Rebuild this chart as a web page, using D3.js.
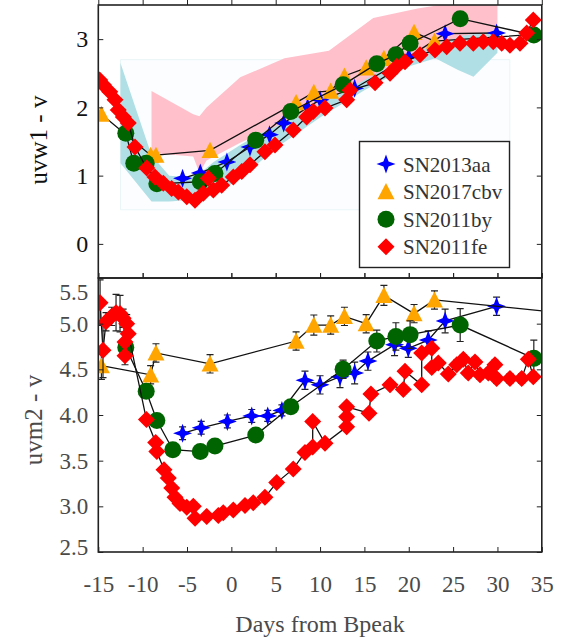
<!DOCTYPE html>
<html>
<head>
<meta charset="utf-8">
<script src="https://cdn.jsdelivr.net/npm/d3@7"></script>
<style>
    body { margin: 0; background: #fff; }
    svg { display: block; font-family: 'Liberation Serif', 'DejaVu Serif', serif; }
</style>
</head>
<body>
<svg width="561" height="638"></svg>
<script>
// ---- data (phase in days from B peak, colour in mag) ----

// comparison bands in the uvw1 - v panel
const bluePhase = [-12.5, -9.0, -7.0, -5.0, -3.5, -2.0, 1.0, 5.0, 10.0, 15.0, 20.0, 23.0, 25.5, 27.3, 30.0];
const blueUpper = [2.65, 1.30, 1.00, 0.98, 1.04, 1.20, 1.45, 1.75, 2.10, 2.45, 2.80, 3.00, 3.08, 3.10, 3.13];
const blueLower = [1.18, 0.62, 0.62, 0.64, 0.66, 0.72, 0.95, 1.40, 1.85, 2.25, 2.60, 2.72, 2.55, 2.45, 2.80];
const pinkPhase = [-9.0, -4.3, -3.6, -2.8, 1.0, 6.0, 11.0, 16.0, 21.0, 26.0, 30.0];
const pinkUpper = [2.24, 1.90, 1.87, 2.00, 2.44, 2.72, 2.83, 3.31, 3.45, 3.55, 3.57];
const pinkLower = [1.33, 1.28, 1.04, 1.22, 1.48, 1.78, 2.12, 2.47, 2.82, 3.05, 3.12];
const faintPhase = [-12.5, 31.4];
const faintUpper = [2.70, 2.70];
const faintLower = [0.50, 0.50];

// SN2013aa
const aaPhaseW1 = [-5.5, -3.5, -0.5, 2.1, 4.3, 5.9, 8.6, 10.0, 13.9, 20.0, 24.1, 29.9];
const aaW1 = [0.96, 1.04, 1.20, 1.42, 1.60, 1.77, 2.00, 2.11, 2.28, 2.74, 3.08, 3.09];
const aaPhaseM2 = [-5.5, -3.4, -0.45, 2.3, 4.1, 5.7, 8.3, 10.0, 12.25, 13.9, 15.4, 18.4, 19.95, 22.2, 24.1, 29.9];
const aaM2 = [3.80, 3.86, 3.93, 3.99, 3.99, 4.05, 4.38, 4.33, 4.42, 4.46, 4.59, 4.77, 4.73, 4.82, 5.03, 5.19];
const aaErrM2 = [0.07, 0.07, 0.07, 0.07, 0.06, 0.06, 0.10, 0.10, 0.12, 0.12, 0.10, 0.12, 0.10, 0.10, 0.13, 0.10];

// SN2017cbv
const cbvPhaseW1 = [-14.65, -9.1, -8.5, -2.4, 7.3, 9.3, 11.2, 12.75, 15.2, 17.2, 20.6, 22.9, 40];
const cbvW1 = [1.90, 1.30, 1.30, 1.37, 2.07, 2.22, 2.24, 2.46, 2.58, 2.72, 3.10, 2.97, 3.12];
const cbvPhaseM2 = [-14.65, -9.1, -8.5, -2.4, 7.3, 9.3, 11.2, 12.75, 15.2, 17.2, 20.6, 22.9, 40];
const cbvM2 = [4.54, 4.44, 4.68, 4.56, 4.81, 4.985, 4.985, 5.08, 5.00, 5.31, 5.11, 5.26, 5.09];
const cbvErrM2 = [0.15, 0.10, 0.10, 0.10, 0.10, 0.11, 0.10, 0.10, 0.10, 0.11, 0.10, 0.10, 0.10];

// SN2011by
const byPhaseW1 = [-11.9, -11.0, -9.6, -8.4, -3.5, -1.85, 2.75, 6.7, 12.6, 16.4, 18.55, 20.15, 25.8, 34.1];
const byW1 = [1.62, 1.18, 1.18, 0.88, 0.91, 1.03, 1.52, 1.94, 2.33, 2.64, 2.77, 2.94, 3.30, 3.06];
const byPhaseM2 = [-11.9, -9.6, -8.4, -6.6, -3.5, -1.85, 2.75, 6.7, 12.6, 16.4, 18.55, 20.15, 25.8, 34.1];
const byM2 = [4.74, 4.26, 3.94, 3.62, 3.60, 3.66, 3.78, 4.09, 4.50, 4.81, 4.86, 4.88, 4.985, 4.62];
const byErrM2 = [0.05, 0.05, 0.05, 0.05, 0.05, 0.05, 0.05, 0.06, 0.10, 0.12, 0.15, 0.15, 0.18, 0.20];

// SN2011fe
const fePhaseW1 = [-14.84, -14.44, -13.71, -13.12, -12.75, -12.18, -11.62, -10.86, -9.54, -8.61, -7.67, -6.73,
    -5.98, -5.03, -4.10, -3.16, -2.60, -2.03, -1.09, 0.22, 1.17, 2.10, 3.79, 4.92, 6.98, 8.49, 9.24, 10.56,
    13.0, 13.38, 16.2, 17.89, 18.64, 19.58, 21.27, 22.96, 24.28, 25.78, 27.28, 28.4, 29.53, 30.48, 31.41,
    32.54, 33.3, 34.04];
const feW1 = [2.40, 2.33, 2.23, 2.11, 1.96, 1.86, 1.77, 1.42, 1.11, 0.98, 0.89, 0.81,
    0.76, 0.69, 0.64, 0.74, 0.96, 0.79, 0.86, 0.98, 1.06, 1.16, 1.35, 1.45, 1.67, 1.86, 1.94, 1.99,
    2.11, 2.25, 2.36, 2.50, 2.60, 2.67, 2.77, 2.84, 2.89, 2.94, 2.94, 2.96, 2.96, 2.94, 2.91,
    2.94, 3.09, 3.28];
const fePhaseM2 = [-14.8, -14.47, -14.13, -13.49, -13.0, -12.55, -12.2, -11.99, -11.99, -11.8, -11.62,
    -9.57, -8.53, -8.4, -7.59, -7.11, -6.72, -6.35, -5.79, -5.03, -4.29, -4.09, -2.78, -1.47, -0.91, 0.22,
    1.54, 2.47, 3.79, 5.11, 6.98, 8.30, 9.17, 9.17, 10.56, 13.0, 13.0, 13.0, 15.52, 15.74, 17.89, 19.39,
    19.58, 21.46, 21.46, 22.59, 22.59, 23.33, 24.46, 25.41, 26.15, 26.71, 27.47, 28.03, 28.97, 29.72,
    29.91, 31.41, 32.73, 33.48, 34.04];
const feM2 = [5.23, 4.71, 5.02, 5.08, 5.12, 5.11, 5.06, 4.80, 4.65, 5.00, 4.89,
    3.95, 3.70, 3.60, 3.40, 3.31, 3.20, 3.10, 3.03, 2.99, 3.00, 2.87, 2.89, 2.90, 2.93, 2.96,
    3.01, 3.04, 3.10, 3.26, 3.41, 3.59, 3.65, 3.93, 3.69, 3.87, 3.98, 4.09, 4.02, 4.23, 4.33, 4.28,
    4.48, 4.33, 4.68, 4.73, 4.52, 4.57, 4.45, 4.55, 4.61, 4.46, 4.58, 4.44, 4.46, 4.55,
    4.40, 4.40, 4.40, 4.61, 4.42];
const feErrM2 = [0.25, 0.30, 0.10, 0.10, 0.20, 0.20, 0.10, 0.10, 0.10, 0.10, 0.10,
    0.04, 0.04, 0.04, 0.03, 0.03, 0.03, 0.03, 0.03, 0.03, 0.03, 0.03, 0.03, 0.03, 0.03, 0.03,
    0.03, 0.03, 0.03, 0.03, 0.03, 0.03, 0.03, 0.03, 0.03, 0.03, 0.03, 0.03, 0.03, 0.03, 0.04, 0.04,
    0.04, 0.04, 0.04, 0.04, 0.04, 0.04, 0.04, 0.05, 0.05, 0.05, 0.05, 0.05, 0.05, 0.05,
    0.05, 0.05, 0.05, 0.05, 0.05];

const xTicks = [-15, -10, -5, 0, 5, 10, 15, 20, 25, 30, 35];
const w1Ticks = [0, 1, 2, 3];
const m2Ticks = [2.5, 3.0, 3.5, 4.0, 4.5, 5.0, 5.5];
const legendNames = ['SN2013aa', 'SN2017cbv', 'SN2011by', 'SN2011fe'];

// ---- rendering ----

const zip = (p, v, e) => p.map((d, i) => ({ x: d, y: v[i], e: e ? e[i] : 0 }));
const band = (p, lo, hi) => p.map((d, i) => ({ x: d, lo: lo[i], hi: hi[i] }));

const markers = {
    star: r => {
        const a = r * 0.27;
        return `M0,${-r}L${a},${-a}L${r},0L${a},${a}L0,${r}L${-a},${a}L${-r},0L${-a},${-a}Z`;
    },
    triangle: r => `M0,${-r}L${r},${r * 0.9}L${-r},${r * 0.9}Z`,
    circle: r => `M${r},0A${r},${r},0,1,1,${-r},0A${r},${r},0,1,1,${r},0Z`,
    diamond: r => `M0,${-r}L${r},0L0,${r}L${-r},0Z`
};

const series = [
    { name: legendNames[0], shape: 'star', size: 9.5, color: '#0000ff',
        w1: zip(aaPhaseW1, aaW1), m2: zip(aaPhaseM2, aaM2, aaErrM2) },
    { name: legendNames[1], shape: 'triangle', size: 8.5, color: '#ffa500',
        w1: zip(cbvPhaseW1, cbvW1), m2: zip(cbvPhaseM2, cbvM2, cbvErrM2) },
    { name: legendNames[2], shape: 'circle', size: 8.5, color: '#006400',
        w1: zip(byPhaseW1, byW1), m2: zip(byPhaseM2, byM2, byErrM2) },
    { name: legendNames[3], shape: 'diamond', size: 8.5, color: '#ff0000',
        w1: zip(fePhaseW1, feW1), m2: zip(fePhaseM2, feM2, feErrM2) }
];

const svg = d3.select('svg');

const left = 98.3;
const right = 541.8;
const x = d3.scaleLinear().domain([-15, 35]).range([left, right]);
const yW1 = d3.scaleLinear().domain([-0.5, 3.5]).range([278, 5]);
const yM2 = d3.scaleLinear().domain([2.5, 5.5]).range([552, 278]);

function drawPanel(id, y, key, ticks, labelFmt, fontSize, labelColor) {
    const [y0, y1] = y.range();

    svg.append('clipPath')
        .attr('id', id)
        .append('rect')
        .attr('x', left)
        .attr('y', y1)
        .attr('width', right - left)
        .attr('height', y0 - y1);

    const g = svg.append('g')
        .attr('clip-path', `url(#${id})`);

    if (key === 'w1') {
        const area = d3.area()
            .x(d => x(d.x))
            .y0(d => y(d.lo))
            .y1(d => y(d.hi));
        // barely visible envelope behind the blue band
        g.append('path')
            .attr('d', area(band(faintPhase, faintLower, faintUpper)))
            .style('fill', '#fbfdfe')
            .style('stroke', '#eaf5f7')
            .style('stroke-width', 1);
        g.append('path')
            .attr('d', area(band(bluePhase, blueLower, blueUpper)))
            .style('fill', '#b0dfe5');
        g.append('path')
            .attr('d', area(band(pinkPhase, pinkLower, pinkUpper)))
            .style('fill', '#ffc0cb');
    }

    const line = d3.line()
        .x(d => x(d.x))
        .y(d => y(d.y));

    series.forEach(s => {
        const pts = s[key];
        g.append('path')
            .attr('d', line(pts))
            .style('fill', 'none')
            .style('stroke', '#111')
            .style('stroke-width', 1.3);

        const err = g.append('g')
            .selectAll('g')
            .data(pts.filter(d => d.e > 0))
            .enter()
            .append('g')
            .style('stroke', '#222')
            .style('stroke-width', 1.2);
        err.append('line')
            .attr('x1', d => x(d.x))
            .attr('x2', d => x(d.x))
            .attr('y1', d => y(d.y - d.e))
            .attr('y2', d => y(d.y + d.e));
        [-1, 1].forEach(sign => {
            err.append('line')
                .attr('x1', d => x(d.x) - 3.5)
                .attr('x2', d => x(d.x) + 3.5)
                .attr('y1', d => y(d.y + sign * d.e))
                .attr('y2', d => y(d.y + sign * d.e));
        });

        g.append('g')
            .selectAll('path')
            .data(pts)
            .enter()
            .append('path')
            .attr('transform', d => `translate(${x(d.x)},${y(d.y)})`)
            .attr('d', markers[s.shape](s.size))
            .style('fill', s.color);
    });

    // frame and inward ticks on all four sides
    const axes = svg.append('g')
        .style('color', '#222');

    axes.append('g')
        .attr('transform', `translate(${left},0)`)
        .call(d3.axisLeft(y).tickValues(ticks).tickSizeInner(-5).tickSizeOuter(0)
            .tickPadding(10).tickFormat(labelFmt))
        .call(a => a.select('.domain').remove())
        .call(a => a.selectAll('text')
            .style('font-size', fontSize)
            .style('font-family', 'Liberation Serif')
            .style('fill', labelColor));

    axes.append('g')
        .attr('transform', `translate(${right},0)`)
        .call(d3.axisRight(y).tickValues(ticks).tickSizeInner(-5).tickSizeOuter(0).tickFormat(''))
        .call(a => a.select('.domain').remove());

    [[y1, d3.axisTop], [y0, d3.axisBottom]].forEach(([pos, ax]) => {
        axes.append('g')
            .attr('transform', `translate(0,${pos})`)
            .call(ax(x).tickValues(xTicks).tickSizeInner(pos === y1 ? 5 : -5).tickSizeOuter(0).tickFormat(''))
            .call(a => a.select('.domain').remove());
    });

    axes.append('rect')
        .attr('x', left)
        .attr('y', y1)
        .attr('width', right - left)
        .attr('height', y0 - y1)
        .style('fill', 'none')
        .style('stroke', '#222')
        .style('stroke-width', 1.6);

    return axes;
}

drawPanel('clip-w1', yW1, 'w1', w1Ticks, d => String(d), '24px', '#111');
const lower = drawPanel('clip-m2', yM2, 'm2', m2Ticks, d3.format('.1f'), '23px', '#4a4a4a');

// nudge the end labels of the lower panel inside the frame
lower.selectAll('.tick text')
    .attr('dy', d => (d === 5.5 ? '0.95em' : d === 2.5 ? '0.12em' : '0.32em'));

// x tick labels under the lower panel (plain hyphen, as in the original)
svg.append('g')
    .attr('transform', 'translate(0,552)')
    .call(d3.axisBottom(x).tickValues(xTicks).tickSize(0).tickPadding(24).tickFormat(d => String(d)))
    .call(a => a.select('.domain').remove())
    .call(a => a.selectAll('text')
        .style('font-size', '23px')
        .style('font-family', 'Liberation Serif')
        .style('fill', '#4a4a4a'));

svg.append('text')
    .attr('x', 320)
    .attr('y', 632)
    .attr('text-anchor', 'middle')
    .style('font-size', '24px')
    .style('fill', '#4a4a4a')
    .text('Days from Bpeak');

svg.append('text')
    .attr('transform', 'translate(47,140) rotate(-90)')
    .attr('text-anchor', 'middle')
    .style('font-size', '25px')
    .style('fill', '#111')
    .text('uvw1 - v');

svg.append('text')
    .attr('transform', 'translate(42,420) rotate(-90)')
    .attr('text-anchor', 'middle')
    .style('font-size', '25px')
    .style('fill', '#4a4a4a')
    .text('uvm2 - v');

// legend
const legend = svg.append('g');
legend.append('rect')
    .attr('x', 359.5)
    .attr('y', 141.5)
    .attr('width', 150)
    .attr('height', 126)
    .style('fill', '#fff')
    .style('stroke', '#222')
    .style('stroke-width', 1.4);

const row = legend.selectAll('.row')
    .data(series)
    .enter()
    .append('g')
    .attr('class', 'row')
    .attr('transform', (d, i) => `translate(386,${164 + i * 27.6})`);

row.append('path')
    .attr('d', d => markers[d.shape](d.size))
    .style('fill', d => d.color);

row.append('text')
    .attr('x', 17)
    .attr('y', 7.5)
    .style('font-size', '21px')
    .style('fill', '#333')
    .text(d => d.name);
</script>
</body>
</html>
